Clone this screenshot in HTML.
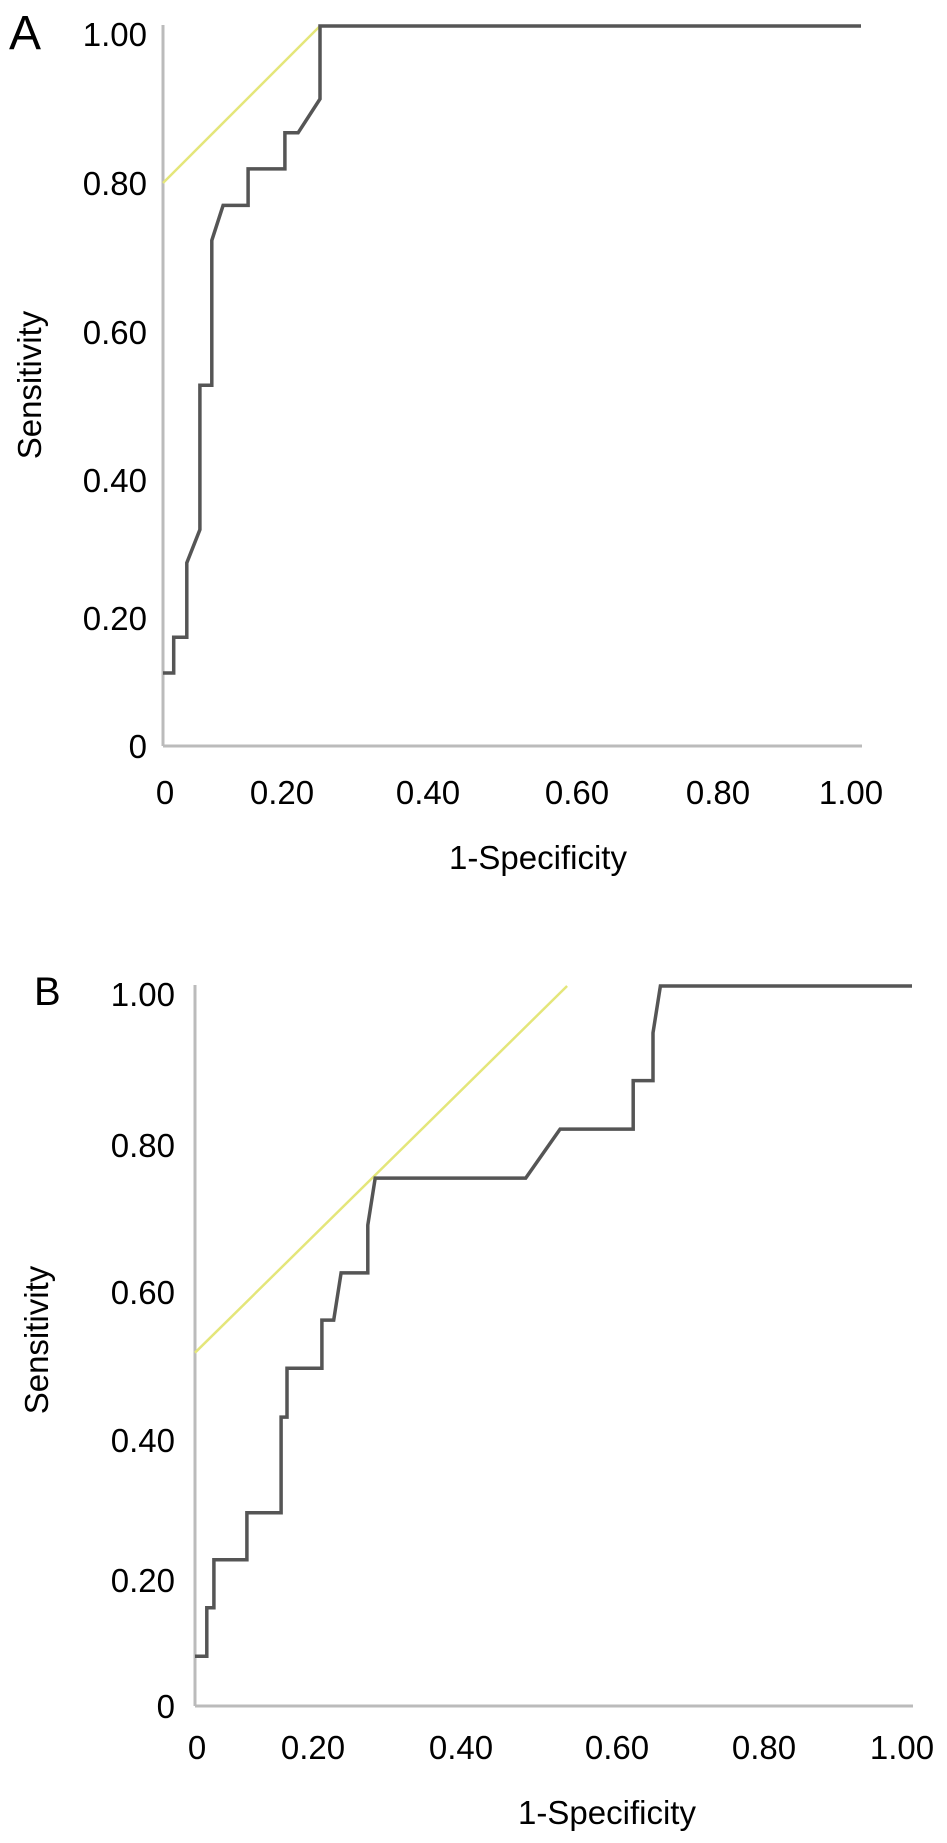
<!DOCTYPE html>
<html><head><meta charset="utf-8"><style>
html,body{margin:0;padding:0;background:#fff;}
svg{display:block;font-family:"Liberation Sans",Arial,sans-serif;}
</style></head><body>
<svg id="fig" width="947" height="1843" viewBox="0 0 947 1843" xmlns="http://www.w3.org/2000/svg"></svg>
<script>
// ---- data ----
const tickValues = [0, 0.2, 0.4, 0.6, 0.8, 1.0];
const tickLabels = ["0", "0.20", "0.40", "0.60", "0.80", "1.00"];
const rocA_fpr = [0, 0.018, 0.018, 0.040, 0.040, 0.062, 0.062, 0.082, 0.082, 0.101, 0.143, 0.143, 0.204, 0.204, 0.222, 0.252, 0.252, 1.0];
const rocA_tpr = [0.114, 0.114, 0.170, 0.170, 0.280, 0.328, 0.528, 0.528, 0.723, 0.770, 0.770, 0.818, 0.818, 0.864, 0.864, 0.907, 1.0, 1.0];
const refA_fpr = [0, 0.252];
const refA_tpr = [0.8, 1.0];
const rocB_fpr = [0, 0.020, 0.020, 0.032, 0.032, 0.088, 0.088, 0.146, 0.146, 0.156, 0.156, 0.212, 0.212, 0.228, 0.238, 0.274, 0.274, 0.284, 0.483, 0.527, 0.622, 0.622, 0.649, 0.649, 0.659, 1.0];
const rocB_tpr = [0.079, 0.079, 0.156, 0.156, 0.229, 0.229, 0.296, 0.296, 0.431, 0.431, 0.497, 0.497, 0.562, 0.562, 0.626, 0.626, 0.691, 0.755, 0.755, 0.820, 0.820, 0.881, 0.881, 0.941, 1.0, 1.0];
const refB_fpr = [0, 0.536];
const refB_tpr = [0.518, 1.0];

const NS = "http://www.w3.org/2000/svg";
const svg = document.getElementById("fig");
function mk(tag, attrs, parent){ const e=document.createElementNS(NS,tag); for(const k in attrs) e.setAttribute(k,attrs[k]); (parent||svg).appendChild(e); return e; }
function piecewise(dom, rng){ return v=>{ for(let i=0;i<dom.length-1;i++){ if(v<=dom[i+1]||i===dom.length-2){ const t=(v-dom[i])/(dom[i+1]-dom[i]); return rng[i]+t*(rng[i+1]-rng[i]); } } }; }

function panel(cfg){
  const g = mk("g", {});
  
  
  const x = piecewise(tickValues, cfg.xr), y = piecewise(tickValues, cfg.yr);
  const lbl = mk("text",{x:cfg.letterX,y:cfg.letterY,"font-size":cfg.letterSize,fill:"#000"},g); lbl.textContent=cfg.letter;
  
  
  const ya = mk("line",{x1:x(0),y1:y(1)-1,x2:x(0),y2:y(0),stroke:"#bbb","stroke-width":3},g);
  
  
  const xa = mk("line",{x1:x(0),y1:y(0),x2:x(1)+1,y2:y(0),stroke:"#bbb","stroke-width":3},g);
  
  
  tickValues.forEach((v,i)=>{
    const ty = mk("text",{x:cfg.yLabelRight,y:y(v)+12+(v===1?8:0),"font-size":33,"text-anchor":"end",fill:"#000"},g);
    ty.textContent = tickLabels[i];
    
    
    const tx = mk("text",{x:x(v)+(v===0?2:0)-(v===1?10:0),y:cfg.xLabelY+12,"font-size":33,"text-anchor":"middle",fill:"#000"},g);
    tx.textContent = tickLabels[i];
    
    
  });
  const yt = mk("text",{x:0,y:0,"font-size":33,"text-anchor":"middle",fill:"#000",transform:`translate(${cfg.yTitleX},${cfg.yTitleY}) rotate(-90)`},g);
  yt.textContent="Sensitivity";
  
  
  const xt = mk("text",{x:cfg.xTitleX,y:cfg.xTitleY+12,"font-size":33,"text-anchor":"middle",fill:"#000"},g);
  xt.textContent="1-Specificity";
  
  
  const rp = cfg.refF.map((f,i)=>x(f).toFixed(1)+","+y(cfg.refT[i]).toFixed(1)).join(" ");
  const ref = mk("polyline",{points:rp,fill:"none",stroke:"#e4e67a","stroke-width":2.5},g);
  
  
  const cp = cfg.f.map((f,i)=>x(f).toFixed(1)+","+y(cfg.t[i]).toFixed(1)).join(" ");
  const c = mk("polyline",{points:cp,fill:"none",stroke:"#555","stroke-width":3.5,"stroke-linejoin":"miter"},g);
  
  
}

panel({name:"panel-a", letter:"A", letterX:9, letterY:49, letterSize:48,
  xr:[163,282,428,577,718,861], yr:[746,618,480,332,183,26],
  yLabelRight:147, xLabelY:792, yTitleX:41, yTitleY:385, xTitleX:538, xTitleY:857,
  f:rocA_fpr, t:rocA_tpr, refF:refA_fpr, refT:refA_tpr});
panel({name:"panel-b", letter:"B", letterX:34, letterY:1005, letterSize:40,
  xr:[195,313,461,617,764,912], yr:[1706,1580,1440,1292,1145,986],
  yLabelRight:175, xLabelY:1747, yTitleX:48, yTitleY:1340, xTitleX:607, xTitleY:1812,
  f:rocB_fpr, t:rocB_tpr, refF:refB_fpr, refT:refB_tpr});
</script>
</body></html>
